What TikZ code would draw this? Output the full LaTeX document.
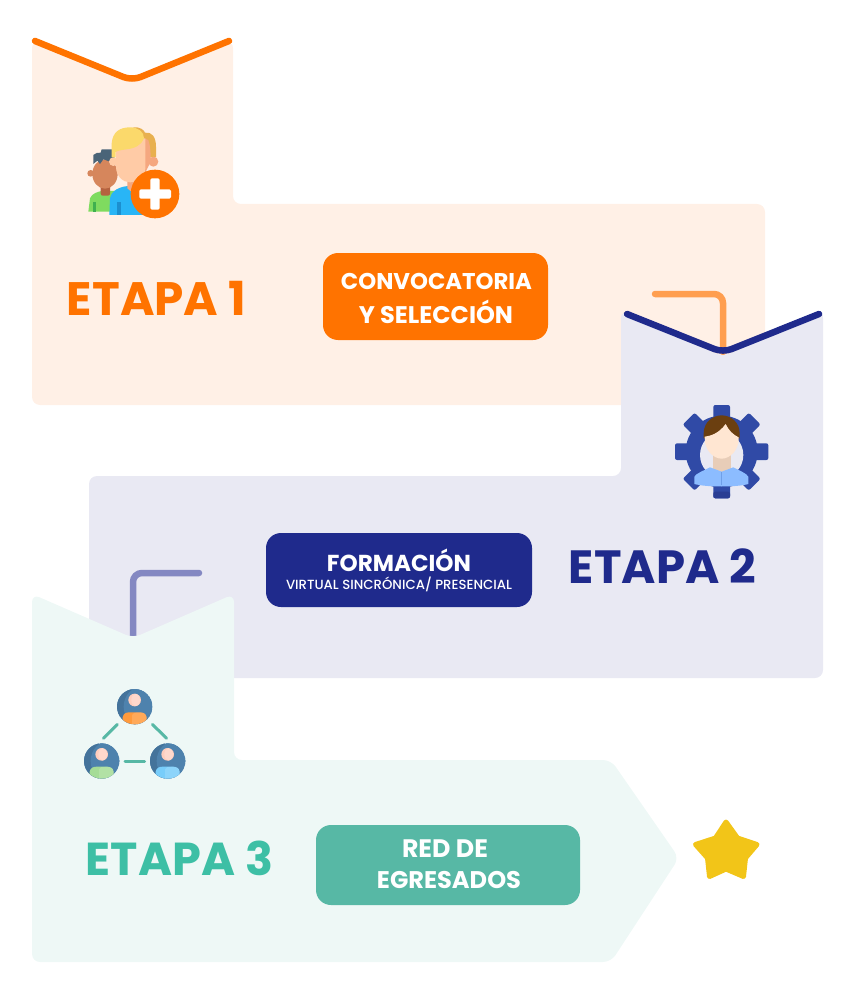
\documentclass[tikz,border=0pt]{standalone}
\usepackage{fontspec}
\usepackage{graphicx}
\setmainfont{Poppins}
\newfontfamily\popmed{Poppins Medium}
\definecolor{panelA}{HTML}{FFF0E6}
\definecolor{panelB}{HTML}{E9E9F3}
\definecolor{panelC}{HTML}{EEF8F6}
\definecolor{orangeM}{HTML}{FF7300}
\definecolor{orangeL}{HTML}{FF9E4F}
\definecolor{navyM}{HTML}{1F2A8C}
\definecolor{purpleL}{HTML}{8488C2}
\definecolor{tealM}{HTML}{57B8A5}
\definecolor{tealT}{HTML}{3DBFA5}
\definecolor{starY}{HTML}{F2C518}
\definecolor{gearB}{HTML}{304AA6}
\definecolor{gearD}{HTML}{2A3E94}
\definecolor{discB}{HTML}{4E82AD}
\definecolor{discD}{HTML}{44739B}
\definecolor{headC}{HTML}{FFCDBD}
\definecolor{headL}{HTML}{FFD8CC}
\definecolor{HTMLgreen}{HTML}{7FDB5F}
\definecolor{HTMLgreenD}{HTML}{3FB04F}
\definecolor{HTMLbrownD}{HTML}{B5623F}
\definecolor{HTMLbrown}{HTML}{D6865C}
\definecolor{HTMLslate}{HTML}{4A6478}
\definecolor{HTMLhairD}{HTML}{E8B04F}
\definecolor{HTMLblue}{HTML}{29B5F6}
\definecolor{HTMLblueD}{HTML}{1C8FCF}
\definecolor{HTMLskinD}{HTML}{F5A77F}
\definecolor{HTMLskin}{HTML}{FFCBA6}
\definecolor{HTMLhair}{HTML}{FBD96B}
\definecolor{HTMLneck}{HTML}{E8CDB8}
\definecolor{HTMLshirt}{HTML}{8CBCFF}
\definecolor{HTMLshirtD}{HTML}{6F9FE8}
\definecolor{HTMLhairB}{HTML}{6B3F10}
\definecolor{HTMLface}{HTML}{FFE6D2}
\definecolor{HTMLorangeS}{HTML}{FF9A3C}
\definecolor{HTMLgreenS}{HTML}{A5DC96}
\definecolor{HTMLblueS}{HTML}{78CDFA}
\tikzset{
  panelshape/.style={rounded corners=8pt},
  vline/.style={line width=6.5pt,line cap=round,rounded corners=9pt},
  accent/.style={line width=6.5pt,line cap=round,rounded corners=9pt},
  btn/.style={rounded corners=15pt},
  label/.style={inner sep=0pt,font=\bfseries},
  link/.style={line width=3pt,line cap=round,tealM},
}
\newcommand{\fitw}[2]{\resizebox{#1pt}{!}{#2}}
\newcommand{\persona}[3]{%
  \begin{scope}
    \clip (#1,#2) circle (53);
    \fill[discB] (#1,#2) circle (53);
    \fill[discD] (#1-53,#2-53) rectangle (#1-8,#2+53);
    \fill[discB] (#1+22,#2) ellipse (55 and 60);
    \fill[#3] (#1-36,#2+53) -- (#1-36,#2+32) .. controls (#1-34,#2+20) and (#1-25,#2+17) .. (#1-15,#2+17) -- (#1+15,#2+17) .. controls (#1+25,#2+17) and (#1+34,#2+20) .. (#1+36,#2+32) -- (#1+36,#2+53) -- cycle;
    \fill[white,opacity=.15] (#1-8,#2+53) -- (#1-8,#2+25) .. controls (#1-6,#2+19) and (#1,#2+17) .. (#1+15,#2+17) .. controls (#1+25,#2+17) and (#1+34,#2+20) .. (#1+36,#2+32) -- (#1+36,#2+53) -- cycle;
  \end{scope}
  \fill[headC] (#1,#2-20) circle (19);
  \fill[headL] (#1+3,#2-20) ellipse (13 and 18.5);
}
\begin{document}
\begin{tikzpicture}[x=1pt,y=-1pt]
\useasboundingbox (0,0) rectangle (853,992);
% Stage 1
\fill[panelA,panelshape] (32,40) -- (132,83) -- (233,40) -- (233,204) -- (765,204) -- (765,405) -- (32,405) -- cycle;
\draw[orangeM,vline] (35,41) -- (132,80.5) -- (229,41);
\draw[orangeL,accent] (655,294) -- (723,294) -- (723,352);
% Stage 1 icon
\begin{scope}[shift={(20,30)},scale=1/3]
  \fill[HTMLgreen] (205,545) -- (210,505) .. controls (215,490) and (235,485) .. (245,483) -- (290,483) -- (295,545) -- cycle;
  \fill[HTMLgreenD] (218,515) rectangle (228,545);
  \fill[HTMLbrownD,rounded corners=2pt] (242,465) rectangle (270,497);
  \fill[HTMLbrown] (212,430) circle (10);
  \fill[HTMLbrown] (255,432) ellipse (38 and 44);
  \fill[HTMLslate] (220,402) -- (220,375) .. controls (225,368) and (235,368) .. (242,368) -- (245,358) -- (280,358) -- (285,400) -- (250,388) -- (240,402) -- (232,392) -- cycle;
  \fill[HTMLhairD] (340,292) .. controls (360,290) and (372,300) .. (375,308) .. controls (395,305) and (408,320) .. (408,350) -- (408,382) -- (370,382) -- cycle;
  \fill[HTMLblue] (268,555) -- (270,505) .. controls (275,480) and (300,470) .. (325,468) -- (355,495) -- (400,555) -- cycle;
  \fill[HTMLblueD] (292,515) rectangle (302,555);
  \fill[HTMLskinD] (322,440) -- (362,440) -- (362,500) -- (340,490) -- (322,475) -- cycle;
  \fill[HTMLskinD] (400,395) circle (15);
  \fill[HTMLskinD] (360,320) -- (385,330) .. controls (392,350) and (392,370) .. (392,395) -- (375,430) -- (350,440) -- cycle;
  \fill[HTMLskin] (280,395) circle (13);
  \fill[HTMLskin] (288,340) -- (376,325) -- (376,415) .. controls (375,445) and (345,457) .. (330,457) .. controls (310,457) and (288,440) .. (288,410) -- cycle;
  \fill[HTMLhair] (275,382) -- (275,340) .. controls (278,305) and (300,292) .. (330,292) .. controls (355,292) and (372,305) .. (372,325) .. controls (365,345) and (345,355) .. (320,358) .. controls (305,360) and (292,362) .. (287,366) -- (287,382) -- cycle;
  \fill[orangeM] (405,492) circle (73);
  \fill[white,rounded corners=1.5pt] (391,445) rectangle (419,539);
  \fill[white,rounded corners=1.5pt] (358,478) rectangle (453,506);
\end{scope}
\node[label,text=orangeM] (etapa1) at (156.5,298) {\fitw{179}{ETAPA 1}};
\fill[orangeM,btn] (323,253) rectangle (548,340);
\node[label,text=white] (conv) at (436.5,281.5) {\fitw{191}{CONVOCATORIA}};
\node[label,text=white] (selec) at (436,312) {\fitw{154}{Y SELECCIÓN}};
% Stage 2
\fill[panelB,panelshape] (621,310) -- (723,357) -- (823,310) -- (823,678) -- (89,678) -- (89,476) -- (621,476) -- cycle;
\draw[navyM,vline] (627,314) -- (723,352.5) -- (819,314);
\draw[purpleL,accent] (199,573) -- (133,573) -- (133,640);
% Stage 2 icon
\begin{scope}[shift={(610,280)},scale=1/3]
  \foreach \a in {0,45,...,315}{
    \fill[gearB,rounded corners=2pt,rotate around={\a:(335,515)}] (310,375) rectangle (360,430);
  }
  \fill[gearD,rounded corners=2pt] (310,635) rectangle (360,655);
  \fill[gearB] (335,515) circle (108);
  \fill[panelB] (335,525) ellipse (65 and 68);
  \fill[HTMLneck] (308,520) rectangle (362,575);
  \fill[HTMLshirt] (253,612) -- (253,590) .. controls (258,580) and (285,570) .. (300,562) -- (335,575) -- (370,562) .. controls (385,570) and (410,580) .. (415,590) -- (415,612) .. controls (380,622) and (290,622) .. (253,612) -- cycle;
  \draw[HTMLshirtD,line width=.5pt] (335,575) -- (335,615);
  \fill[HTMLhairB] (281,475) -- (281,460) .. controls (281,425) and (310,406) .. (335,406) .. controls (360,406) and (389,425) .. (389,460) -- (389,475) -- cycle;
  \fill[HTMLface] (284,470) .. controls (300,468) and (325,462) .. (347,432) .. controls (355,450) and (370,465) .. (386,472) .. controls (388,510) and (360,536) .. (335,536) .. controls (310,536) and (282,510) .. (284,470) -- cycle;
\end{scope}
\node[label,text=navyM] (etapa2) at (662.5,566.5) {\fitw{187}{ETAPA 2}};
\fill[navyM,btn] (266,533) rectangle (532,607);
\node[label,text=white] (form) at (399,560) {\fitw{144}{FORMACIÓN}};
\node[inner sep=0pt,text=white,font=\popmed] (virt) at (399,584.5) {\fitw{226}{VIRTUAL SINCRÓNICA/ PRESENCIAL}};
% Stage 3
\fill[panelC,panelshape] (32,594) -- (133,638) -- (234,594) -- (234,760) -- (611,760) -- (679,858) -- (611,962) -- (32,962) -- cycle;
% Stage 3 icon
\begin{scope}[shift={(20,560)},scale=1/3]
  \draw[link] (250,535) -- (292,493);
  \draw[link] (397,493) -- (440,535);
  \draw[link] (315,603) -- (374,603);
  \persona{344}{440}{HTMLorangeS}
  \persona{245}{603}{HTMLgreenS}
  \persona{443}{603}{HTMLblueS}
\end{scope}
\node[label,text=tealT] (etapa3) at (179.5,858) {\fitw{187}{ETAPA 3}};
\fill[tealM,btn] (316,825) rectangle (580,905);
\node[label,text=white] (red) at (445,849) {\fitw{86}{RED DE}};
\node[label,text=white] (egre) at (449,880) {\fitw{144}{EGRESADOS}};
% Star
\filldraw[starY,line width=5pt,line join=round] (726,822) -- (737.5,838) -- (757,844.5) -- (745.5,858) -- (743.5,876.5) -- (726,869) -- (709.5,876.5) -- (707.5,858) -- (695.5,844.5) -- (715.5,838) -- cycle;
\end{tikzpicture}
\end{document}
